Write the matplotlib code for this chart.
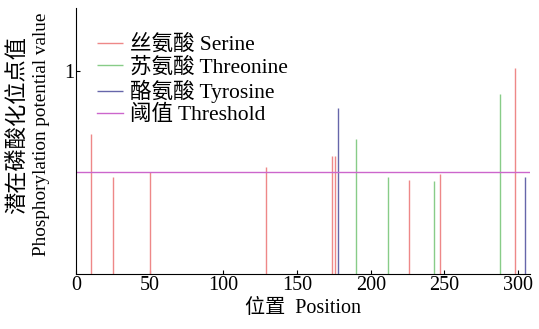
import matplotlib
matplotlib.use("Agg")
import matplotlib.pyplot as plt

plt.rcParams['font.family'] = ['Liberation Serif', 'Noto Sans CJK SC']

serine_pos = [10, 25, 50, 129, 174, 176, 226, 247, 298]
serine_val = [0.69, 0.476, 0.50, 0.525, 0.58, 0.58, 0.464, 0.492, 1.015]
threonine_pos = [190, 212, 243, 288]
threonine_val = [0.666, 0.48, 0.459, 0.885]
tyrosine_pos = [178, 305]
tyrosine_val = [0.815, 0.476]
threshold = 0.5

labels = ['丝氨酸 Serine', '苏氨酸 Threonine', '酪氨酸 Tyrosine', '阈值 Threshold']
colors = ['#ee8888', '#88cc88', '#6666aa', '#cc66cc']

fig = plt.figure(figsize=(5.39, 3.29), dpi=100)
ax = fig.add_axes([0.141, 0.167, 0.842, 0.809])

ax.vlines(serine_pos, 0, serine_val, color=colors[0], lw=1.0, label=labels[0])
ax.vlines(threonine_pos, 0, threonine_val, color=colors[1], lw=1.0, label=labels[1])
ax.vlines(tyrosine_pos, 0, tyrosine_val, color=colors[2], lw=1.0, label=labels[2])
ax.axhline(threshold, color=colors[3], lw=1.0, label=labels[3])

ax.set_xlim(0, 308)
ax.set_ylim(0, 1.31)
ax.set_xticks([0, 50, 100, 150, 200, 250, 300])
ax.set_yticks([1])
ax.tick_params(direction='in', labelsize=14.5, length=3, pad=1.5)
for s in ['top', 'right']:
    ax.spines[s].set_visible(False)

ax.set_xlabel('位置  Position', fontsize=14.5, labelpad=3)

fig.text(17 / 539, 1 - 125 / 329, '潜在磷酸化位点值', rotation=90, fontsize=16,
         ha='center', va='center')
fig.text(42 / 539, 1 - 134 / 329, 'Phosphorylation potential value', rotation=90,
         fontsize=13.8, ha='center', va='center')

leg = ax.legend(loc='upper left', bbox_to_anchor=(0.027, 0.93), frameon=False, fontsize=15.5,
                handlelength=1.2, handletextpad=0.35, labelspacing=0.1, borderaxespad=0)

fig.savefig('out.png', dpi=100)
